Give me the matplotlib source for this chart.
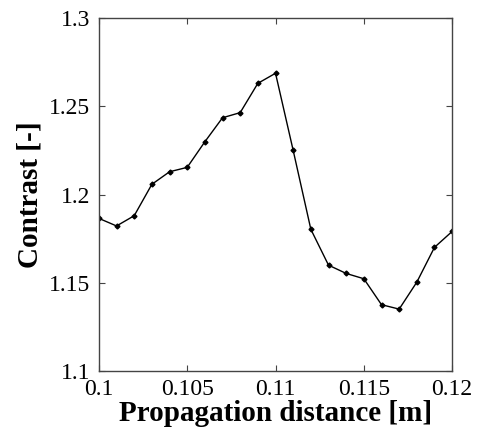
import matplotlib
matplotlib.use('Agg')
import matplotlib.pyplot as plt
import numpy as np

# propagation distance [m] and measured contrast
distance = [0.100, 0.101, 0.102, 0.103, 0.104, 0.105, 0.106, 0.107, 0.108, 0.109, 0.110,
            0.111, 0.112, 0.113, 0.114, 0.115, 0.116, 0.117, 0.118, 0.119, 0.120]
contrast = [1.1865, 1.1822, 1.1880, 1.2058, 1.2129, 1.2154, 1.2299, 1.2435, 1.2464, 1.2630, 1.2687,
            1.2250, 1.1803, 1.1600, 1.1553, 1.1523, 1.1376, 1.1351, 1.1504, 1.1701, 1.1791]

xticks = [0.1, 0.105, 0.11, 0.115, 0.12]
xticklabels = ['0.1', '0.105', '0.11', '0.115', '0.12']
yticks = [1.1, 1.15, 1.2, 1.25, 1.3]
yticklabels = ['1.1', '1.15', '1.2', '1.25', '1.3']

plt.rcParams['font.family'] = ['Liberation Serif', 'DejaVu Serif']

fig = plt.figure(figsize=(4.8, 4.34), dpi=100)
ax = fig.add_axes([0.206, 0.145, 0.736, 0.8135])

ax.plot(distance, contrast, color='black', lw=1.0, marker='D', ms=2.5)

ax.set_xlim(0.1, 0.12)
ax.set_ylim(1.1, 1.3)
ax.set_xticks(xticks)
ax.set_xticklabels(xticklabels)
ax.set_yticks(yticks)
ax.set_yticklabels(yticklabels)
ax.tick_params(direction='in', top=True, right=True, length=4, width=0.8,
               labelsize=17, color='#444444')
ax.tick_params(axis='x', pad=6)
ax.tick_params(axis='y', pad=6)

for s in ax.spines.values():
    s.set_color('#444444')
    s.set_linewidth(1.0)

ax.set_xlabel('Propagation distance [m]', fontsize=21, fontweight='bold', labelpad=0)
ax.set_ylabel('Contrast [-]', fontsize=21, fontweight='bold', labelpad=4)

fig.savefig('out.png', dpi=100)
